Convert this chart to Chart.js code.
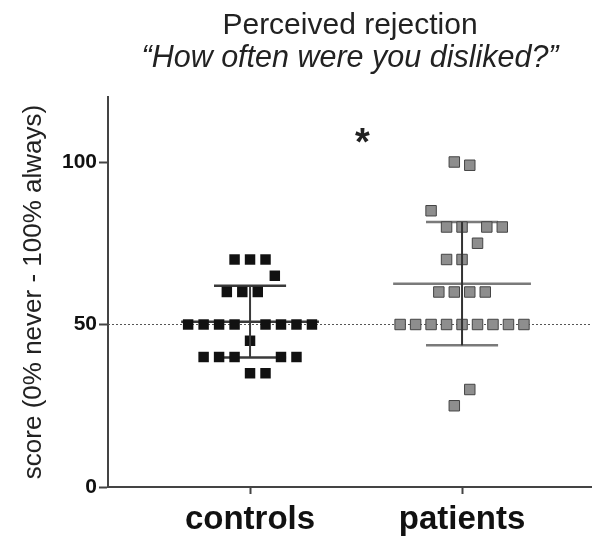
<!DOCTYPE html>
<html>
<head>
<meta charset="utf-8">
<script src="https://cdn.jsdelivr.net/npm/chart.js@4"></script>
<style>
  html, body { margin: 0; padding: 0; background: #fff; }
</style>
</head>
<body>
<canvas id="rejectionChart" width="592" height="542"></canvas>
<script>
// Perceived rejection scores
const groups = ['controls', 'patients'];
const yTicks = [0, 50, 100];
const refLine = 50;

const controlScores = [70, 70, 70, 65, 60, 60, 60, 50, 50, 50, 50, 50, 50, 50, 50, 45, 40, 40, 40, 40, 40, 35, 35];
// column slot of each square inside the scatter column
const controlSlots = [-1, 0, 1, 1.6, -1.5, -0.5, 0.5, -4, -3, -2, -1, 1, 2, 3, 4, 0, -3, -2, -1, 2, 3, 0, 1];

const patientScores = [100, 99, 85, 80, 80, 80, 80, 75, 70, 70, 60, 60, 60, 60, 50, 50, 50, 50, 50, 50, 50, 50, 50, 30, 25];
const patientSlots = [-0.5, 0.5, -2, -1, 0, 1.6, 2.6, 1, -1, 0, -1.5, -0.5, 0.5, 1.5, -4, -3, -2, -1, 0, 1, 2, 3, 4, 0.5, -0.5];

const X_MIN = 0.33, X_MAX = 2.613;
const SLOT = 0.073;      // width of one square in x units
const CAP = 0.17;        // half width of SD caps
const MEAN_W = 0.325;    // half width of mean line
const FONT = '"Liberation Sans", Arial, sans-serif';

function stats(arr) {
    const mean = arr.reduce((a, b) => a + b, 0) / arr.length;
    const sd = Math.sqrt(arr.reduce((a, b) => a + (b - mean) ** 2, 0) / (arr.length - 1));
    return { mean, sd };
}

function toPoints(scores, slots, center) {
    return scores.map((v, i) => ({ x: center + slots[i] * SLOT, y: v }));
}

function segment(x1, y1, x2, y2, color, width, order) {
    return {
        type: 'scatter',
        data: [{ x: x1, y: y1 }, { x: x2, y: y2 }],
        showLine: true,
        borderColor: color,
        borderWidth: width,
        pointRadius: 0,
        order: order
    };
}

function errorBars(scores, center, capColor, stemColor) {
    const s = stats(scores);
    return [
        segment(center, s.mean - s.sd, center, s.mean + s.sd, stemColor, 2, 0),
        segment(center - CAP, s.mean + s.sd, center + CAP, s.mean + s.sd, capColor, 2.5, 1.5),
        segment(center - CAP, s.mean - s.sd, center + CAP, s.mean - s.sd, capColor, 2.5, 1.5),
        segment(center - MEAN_W, s.mean, center + MEAN_W, s.mean, capColor, 2.5, 1.5)
    ];
}

const sigMarkPlugin = {
    id: 'sigMark',
    afterDatasetsDraw(chart) {
        const { ctx, scales } = chart;
        ctx.save();
        ctx.font = 'bold 38px ' + FONT;
        ctx.fillStyle = '#222';
        ctx.textAlign = 'center';
        ctx.textBaseline = 'alphabetic';
        ctx.fillText('*', scales.x.getPixelForValue(1.53), scales.y.getPixelForValue(109) + 22);
        ctx.restore();
    }
};

const ctx = document.getElementById('rejectionChart').getContext('2d');
new Chart(ctx, {
    type: 'scatter',
    data: {
        datasets: [
            ...errorBars(controlScores, 1, '#3a3a3a', '#3a3a3a'),
            ...errorBars(patientScores, 2, '#7a7a7a', '#333'),
            {
                label: groups[0],
                data: toPoints(controlScores, controlSlots, 1),
                pointStyle: 'rect',
                pointRadius: 7.4,
                backgroundColor: '#111',
                borderColor: '#111',
                borderWidth: 0,
                order: 1
            },
            {
                label: groups[1],
                data: toPoints(patientScores, patientSlots, 2),
                pointStyle: 'rect',
                pointRadius: 7.4,
                backgroundColor: '#8e8e8e',
                borderColor: '#444',
                borderWidth: 1,
                order: 1
            },
            {
                type: 'scatter',
                data: [{ x: X_MIN, y: refLine }, { x: X_MAX, y: refLine }],
                showLine: true,
                borderColor: '#555',
                borderWidth: 1,
                borderDash: [2, 2],
                pointRadius: 0,
                order: 2
            }
        ]
    },
    options: {
        responsive: false,
        devicePixelRatio: 1,
        animation: false,
        layout: { padding: 0, autoPadding: false },
        plugins: {
            legend: { display: false },
            tooltip: { enabled: false },
            title: {
                display: true,
                text: 'Perceived rejection',
                fullSize: false,
                color: '#222',
                font: { family: FONT, size: 30, weight: 'normal', lineHeight: 1.1 },
                padding: { top: 9, bottom: 0 }
            },
            subtitle: {
                display: true,
                text: '\u201CHow often were you disliked?\u201D',
                fullSize: false,
                color: '#222',
                font: { family: FONT, size: 30.5, style: 'italic', lineHeight: 1.0 },
                padding: { top: 1, bottom: 23.5 }
            }
        },
        scales: {
            x: {
                type: 'linear',
                min: X_MIN,
                max: X_MAX,
                afterBuildTicks: s => { s.ticks = groups.map((g, i) => ({ value: i + 1 })); },
                afterFit: s => { s.height = 55; },
                ticks: {
                    callback: v => groups[v - 1],
                    color: '#111',
                    padding: 6,
                    maxRotation: 0,
                    font: { family: FONT, size: 33, weight: 'bold' }
                },
                grid: { drawOnChartArea: false, tickLength: 7, tickWidth: 2, tickColor: '#444' },
                border: { color: '#444', width: 2 }
            },
            y: {
                min: 0,
                max: 120,
                afterBuildTicks: s => { s.ticks = yTicks.map(v => ({ value: v })); },
                afterFit: s => { s.width = 108; },
                ticks: {
                    color: '#111',
                    padding: 2,
                    font: { family: FONT, size: 21, weight: 'bold' }
                },
                grid: { drawOnChartArea: false, tickLength: 9, tickWidth: 2, tickColor: '#444' },
                border: { color: '#444', width: 2 },
                title: {
                    display: true,
                    text: 'score (0% never - 100% always)',
                    color: '#222',
                    font: { family: FONT, size: 26 },
                    padding: { top: 18, bottom: 0 }
                }
            }
        }
    },
    plugins: [sigMarkPlugin]
});
</script>
</body>
</html>
